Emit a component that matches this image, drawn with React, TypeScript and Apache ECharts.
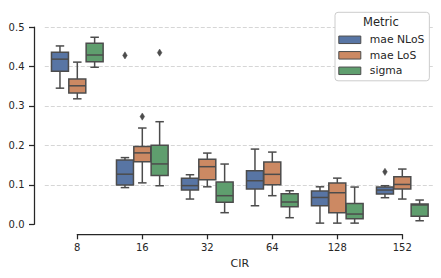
import React, { useEffect, useRef } from "react";
import * as echarts from "echarts";

// ---- data ----
const categories = ["8", "16", "32", "64", "128", "152"];
const hueNames = ["mae NLoS", "mae LoS", "sigma"];
const hueColors = ["#5875a4", "#cc8963", "#5f9e6e"];

// [whisker low, Q1, median, Q3, whisker high]
const maeNLoS = [
  [0.345, 0.388, 0.4185, 0.436, 0.452],
  [0.093, 0.0995, 0.127, 0.163, 0.169],
  [0.064, 0.087, 0.098, 0.117, 0.1256],
  [0.047, 0.0894, 0.1104, 0.1357, 0.1906],
  [0.003, 0.047, 0.068, 0.0843, 0.095],
  [0.0674, 0.0767, 0.0868, 0.0944, 0.0978],
];
const maeLoS = [
  [0.318, 0.333, 0.351, 0.368, 0.411],
  [0.105, 0.1585, 0.181, 0.197, 0.244],
  [0.095, 0.113, 0.146, 0.165, 0.1805],
  [0.0725, 0.1003, 0.1266, 0.1577, 0.183],
  [0.003, 0.0294, 0.08, 0.1046, 0.117],
  [0.064, 0.0894, 0.101, 0.1205, 0.14],
];
const sigma = [
  [0.398, 0.412, 0.429, 0.459, 0.474],
  [0.0977, 0.1235, 0.153, 0.2005, 0.26],
  [0.0294, 0.0557, 0.0725, 0.107, 0.1527],
  [0.0167, 0.0447, 0.0565, 0.0776, 0.085],
  [0.003, 0.0142, 0.026, 0.053, 0.0944],
  [0.009, 0.0203, 0.049, 0.0514, 0.0615],
];
// outliers: [category index, hue index, value]
const outliers = [
  [1, 0, 0.428],
  [5, 0, 0.133],
  [1, 1, 0.273],
  [1, 2, 0.435],
];
const yTicks = [0, 0.1, 0.2, 0.3, 0.4, 0.5];

const GRAY = "#4c4c4c";
const INK = "#262626";
const FONT = "DejaVu Sans";
const X_OFFSET = 10;

function boxRenderer(hue: number) {
  return (params: any, api: any) => {
    const ci = api.value(0);
    const center = api.coord([ci, 0])[0];
    const band = api.size([1, 0])[0];
    const hueW = (band * 0.8) / 3;
    const x = center + (hue - 1) * hueW;
    const w = hueW * 0.98;
    const capW = w * 0.5;
    const y = (k: number) => api.coord([ci, api.value(k)])[1];
    const yLo = y(1), yQ1 = y(2), yMed = y(3), yQ3 = y(4), yHi = y(5);
    const ls = { stroke: GRAY, lineWidth: 1.5, fill: null };
    return {
      type: "group",
      children: [
        { type: "line", shape: { x1: x, y1: yQ1, x2: x, y2: yLo }, style: ls },
        { type: "line", shape: { x1: x, y1: yQ3, x2: x, y2: yHi }, style: ls },
        { type: "line", shape: { x1: x - capW / 2, y1: yLo, x2: x + capW / 2, y2: yLo }, style: ls },
        { type: "line", shape: { x1: x - capW / 2, y1: yHi, x2: x + capW / 2, y2: yHi }, style: ls },
        {
          type: "rect",
          shape: { x: x - w / 2, y: yQ3, width: w, height: yQ1 - yQ3 },
          style: { fill: hueColors[hue], stroke: GRAY, lineWidth: 1.5 },
        },
        { type: "line", shape: { x1: x - w / 2, y1: yMed, x2: x + w / 2, y2: yMed }, style: ls },
      ],
    };
  };
}

function outlierRenderer(params: any, api: any) {
  const ci = api.value(0);
  const hue = api.value(1);
  const p = api.coord([ci, api.value(2)]);
  const band = api.size([1, 0])[0];
  const x = p[0] + (hue - 1) * ((band * 0.8) / 3);
  const yy = p[1];
  return {
    type: "polygon",
    shape: { points: [[x, yy - 3.6], [x + 2.3, yy], [x, yy + 3.6], [x - 2.3, yy]] },
    style: { fill: GRAY, stroke: GRAY, lineWidth: 0.5 },
  };
}

export default function App() {
  const ref = useRef<HTMLDivElement>(null);
  useEffect(() => {
    if (!ref.current) return;
    const chart = echarts.init(ref.current, null, { renderer: "svg" });
    const allBoxes = [maeNLoS, maeLoS, sigma];
    const gridTop = 27;
    const gridBottom = 278 - 224.3;
    chart.setOption({
      animation: false,
      textStyle: { fontFamily: FONT, color: INK },
      title: {
        text: "Metric",
        left: 363,
        top: 16,
        padding: 0,
        z: 10,
        textStyle: { fontFamily: FONT, fontSize: 11.5, fontWeight: "normal", color: INK },
      },
      legend: {
        orient: "vertical",
        left: 335,
        top: 12.3,
        padding: [21.5, 5, 4, 3.3],
        backgroundColor: "#ffffff",
        borderColor: "#cccccc",
        borderWidth: 1,
        borderRadius: 3,
        itemWidth: 22,
        itemHeight: 7.5,
        itemGap: 3.5,
        icon: "rect",
        itemStyle: { borderColor: GRAY, borderWidth: 1 },
        textStyle: { fontFamily: FONT, fontSize: 10.8, color: INK, lineHeight: 12, padding: [0, 0, 0, 4] },
        data: hueNames,
      },
      grid: [
        { left: 44.8, right: 6.2, top: gridTop, bottom: gridBottom },
        // trimmed x spine grid: spans first..last category centre, its bottom edge is the offset spine
        { left: 77.3, right: 38.7, top: gridTop, bottom: gridBottom - X_OFFSET },
      ],
      xAxis: [
        {
          type: "category",
          gridIndex: 0,
          data: categories,
          boundaryGap: true,
          show: false,
        },
        {
          type: "category",
          gridIndex: 1,
          data: categories,
          boundaryGap: false,
          position: "bottom",
          name: "CIR",
          nameLocation: "middle",
          nameGap: 23.5,
          nameTextStyle: { fontFamily: FONT, fontSize: 11, color: INK },
          axisLine: { show: true, onZero: false, lineStyle: { color: INK, width: 1.25 } },
          axisTick: { show: true, inside: false, length: 5, interval: 0, lineStyle: { color: INK, width: 1.25 } },
          axisLabel: { fontFamily: FONT, fontSize: 10, color: INK, margin: 8, interval: 0 },
          splitLine: { show: false },
        },
      ],
      yAxis: [
        {
          type: "value",
          gridIndex: 0,
          min: 0,
          max: 0.5,
          interval: 0.1,
          offset: 10.8,
          axisLine: { show: true, lineStyle: { color: INK, width: 1.25 } },
          axisTick: { show: true, length: 5, lineStyle: { color: INK, width: 1.25 } },
          axisLabel: {
            fontFamily: FONT,
            fontSize: 10,
            color: INK,
            margin: 9.5,
            formatter: (v: number) => (yTicks.includes(Math.round(v * 10) / 10) ? v.toFixed(1) : ""),
          },
          splitLine: {
            show: true,
            showMinLine: false,
            lineStyle: { color: "#cccccc", width: 0.8, type: [4, 2] },
          },
        },
        {
          type: "value",
          gridIndex: 1,
          min: 0,
          max: 1,
          axisLine: { show: false },
          axisTick: { show: false },
          axisLabel: { show: false },
          splitLine: { show: false },
        },
      ],
      series: [
        ...allBoxes.map((arr, h) => ({
          type: "custom",
          name: hueNames[h],
          xAxisIndex: 0,
          yAxisIndex: 0,
          itemStyle: { color: hueColors[h] },
          encode: { x: 0, y: [1, 2, 3, 4, 5] },
          renderItem: boxRenderer(h),
          data: arr.map((d, i) => [i, ...d]),
        })),
        {
          type: "custom",
          name: "outliers",
          xAxisIndex: 0,
          yAxisIndex: 0,
          encode: { x: 0, y: 2 },
          renderItem: outlierRenderer,
          data: outliers,
        },
        {
          type: "line",
          name: "spineHolder",
          xAxisIndex: 1,
          yAxisIndex: 1,
          silent: true,
          showSymbol: false,
          lineStyle: { opacity: 0 },
          data: categories.map(() => null),
        },
      ],
    });
    return () => chart.dispose();
  }, []);
  return (
    <div
      ref={ref}
      style={{ position: "fixed", left: 0, top: 0, width: 441, height: 278, background: "#ffffff" }}
    />
  );
}
